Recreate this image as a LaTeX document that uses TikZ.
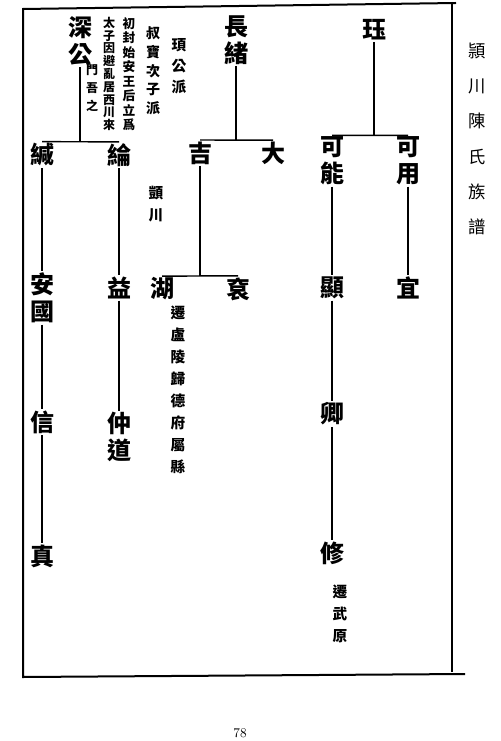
\documentclass[tikz,border=0pt]{standalone}
\usepackage{fontspec}
\newfontfamily\cjk{Noto Sans CJK TC}
\newcommand{\nf}[2]{\cjk\fontsize{#1}{#2}\selectfont}

\begin{document}
\begin{tikzpicture}[x=0.75pt, y=-0.75pt,
  person/.style={font=\nf{18}{20}\bfseries, align=center, inner sep=1pt},
  note/.style={align=center, inner sep=0pt},
  link/.style={line width=1.1pt},
  frame/.style={line width=1.5pt}]

\useasboundingbox (0,0) rectangle (500,741);

\draw[frame] (456,3) -- (23,9) -- (23,677) -- (465,674);
\draw[frame] (452,2) -- (452,672);

\node[note, font=\nf{13}{26.5}] (title) at (477,139) {頴\\川\\陳\\氏\\族\\譜};

\node[person] (jue) at (374,30) {珏};
\node[person] (keneng) at (332,161) {可\\能};
\node[person] (keyong) at (408,161) {可\\用};
\node[person] (xian) at (332,288) {顯};
\node[person] (qing) at (332,414) {卿};
\node[person] (xiu) at (332,553) {修};
\node[person] (yi) at (408,288) {宜};
\node[note, font=\nf{11}{16.5}\bfseries] (xiunote) at (340,614) {遷\\武\\原};

\node[person] (changxu) at (236,40) {長\\緒};
\node[person] (ji) at (200,153) {吉};
\node[person] (da) at (273,153) {大};
\node[person] (hu) at (162,289) {湖};
\node[person] (gun) at (238,289) {袞};
\node[note, font=\nf{11}{17}\bfseries] (jinote) at (156,204) {顗\\川};
\node[note, font=\nf{11}{16.5}\bfseries] (hunote) at (178,390) {遷\\盧\\陵\\歸\\德\\府\\屬\\縣};

\node[person] (shengong) at (80,41) {深\\公};
\node[note, font=\nf{9}{13.5}\bfseries] (shennote) at (92,88) {門\\吾\\之};
\node[note, font=\nf{9}{9.6}\bfseries] (taizi) at (109,74) {太\\子\\因\\避\\亂\\居\\西\\川\\來};
\node[note, font=\nf{9.5}{10.9}\bfseries] (shifeng) at (129,74) {初\\封\\始\\安\\王\\后\\立\\爲};
\node[note, font=\nf{10.5}{14}\bfseries] (shubao) at (153,71) {叔\\寶\\次\\子\\派};
\node[note, font=\nf{11}{15.7}\bfseries] (xugong) at (179,66) {頊\\公\\派};
\node[person] (jian) at (42,155) {緘};
\node[person] (lun) at (119,155) {綸};
\node[person] (anguo) at (42,298) {安\\國};
\node[person] (xin) at (42,422) {信};
\node[person] (zhen) at (42,556) {真};
\node[person] (yiz) at (119,288) {益};
\node[person] (zhongdao) at (119,437) {仲\\道};

\draw[link] (jue) -- (jue |- keneng.north);
\draw[link] (keneng.north) -- (keyong.north);
\draw[link] (keneng) -- (xian);
\draw[link] (xian) -- (qing);
\draw[link] (qing) -- (xiu);
\draw[link] (keyong) -- (yi);

\draw[link] (changxu) -- (changxu |- ji.north);
\draw[link] (ji.north) -- (da.north);
\draw[link] (ji) -- (ji |- hu.north);
\draw[link] (hu.north) -- (gun.north);

\draw[link] (shengong) -- (shengong |- jian.north);
\draw[link] (jian.north) -- (lun.north);
\draw[link] (jian) -- (anguo);
\draw[link] (anguo) -- (xin);
\draw[link] (xin) -- (zhen);
\draw[link] (lun) -- (yiz);
\draw[link] (yiz) -- (zhongdao);

\node[font=\fontsize{10}{12}\selectfont] (pagenum) at (240,733) {78};

\end{tikzpicture}
\end{document}
